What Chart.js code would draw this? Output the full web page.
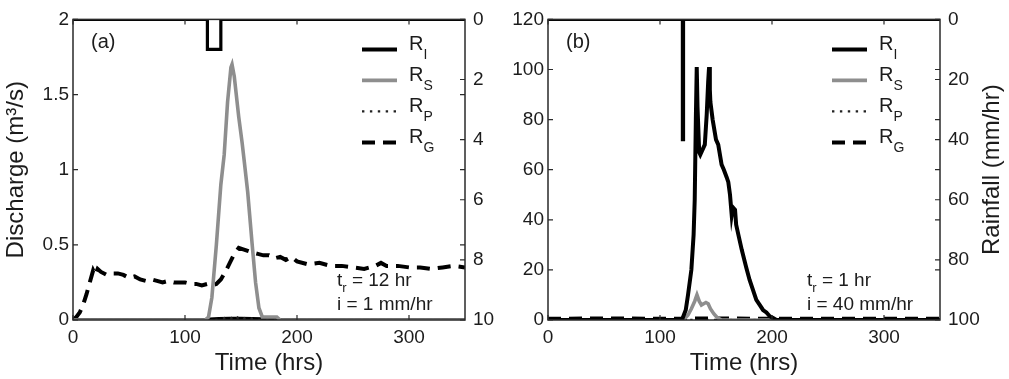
<!DOCTYPE html>
<html>
<head>
<meta charset="utf-8">
<script src="https://cdn.jsdelivr.net/npm/chart.js@4.4.1/dist/chart.umd.min.js"></script>
<style>
  html, body { margin: 0; padding: 0; background: #fff; }
  #wrap { position: relative; width: 1009px; height: 379px; }
  .pane { position: absolute; top: 0; height: 379px; }
  #pa { left: 0; width: 500px; }
  #pb { left: 500px; width: 509px; }
</style>
</head>
<body>
<div id="wrap">
  <div class="pane" id="pa"><canvas id="chartA"></canvas></div>
  <div class="pane" id="pb"><canvas id="chartB"></canvas></div>
</div>
<script>
// ---- tick labels ----
const xTicks      = [0, 100, 200, 300];
const yTicksA     = [0, 0.5, 1, 1.5, 2];
const rainTicksA  = [0, 2, 4, 6, 8, 10];
const yTicksB     = [0, 20, 40, 60, 80, 100, 120];
const rainTicksB  = [0, 20, 40, 60, 80, 100];
const seriesKeys  = ['I', 'S', 'P', 'G'];

// ---- panel (a): t_r = 12 hr, i = 1 mm/hr ----
const tA_rain = [0, 120, 120, 132, 132, 350];
const rainA   = [0, 0, 1, 1, 0, 0];

const tA_RI = [0, 118, 122, 130, 140, 150, 160, 170, 180, 184, 350];
const rIA   = [0, 0, 0.004, 0.006, 0.008, 0.008, 0.006, 0.005, 0.003, 0, 0];

const tA_RS = [0, 118, 121, 124, 128, 132, 135, 138, 141, 142, 144, 148, 151, 153, 156, 160, 163, 166, 169, 175, 182, 185, 350];
const rSA   = [0, 0, 0.02, 0.15, 0.5, 0.9, 1.1, 1.45, 1.68, 1.7, 1.62, 1.35, 1.18, 1.05, 0.85, 0.5, 0.25, 0.08, 0.02, 0.02, 0.02, 0, 0];

const tA_RP = [0, 128, 134, 138, 141, 144, 147, 150, 153, 156, 160, 165, 350];
const rPA   = [0, 0, 0.01, 0.02, 0.01, 0.03, 0.015, 0.025, 0.01, 0.02, 0.008, 0, 0];

const tA_RG = [0, 3, 6, 9, 12, 15, 18, 20, 22, 25,
               30, 35, 40, 45, 50, 55, 60, 65, 70, 75,
               80, 85, 90, 95, 100, 105, 110, 115, 120, 124,
               128, 132, 136, 140, 144, 148, 152, 156, 160, 165,
               170, 175, 180, 185, 190, 195, 200, 210, 220, 230,
               240, 250, 260, 270, 275, 280, 290, 300, 310, 320,
               330, 340, 350];
const rGA   = [0, 0.02, 0.05, 0.1, 0.17, 0.25, 0.33, 0.3, 0.34, 0.32,
               0.3, 0.31, 0.31, 0.3, 0.28, 0.29, 0.27, 0.26, 0.27, 0.26,
               0.25, 0.26, 0.25, 0.25, 0.25, 0.24, 0.24, 0.23, 0.24, 0.23,
               0.24, 0.27, 0.32, 0.38, 0.44, 0.48, 0.47, 0.46, 0.45, 0.44,
               0.43, 0.43, 0.41, 0.42, 0.4, 0.42, 0.39, 0.37, 0.38, 0.36,
               0.36, 0.35, 0.34, 0.36, 0.38, 0.36, 0.36, 0.35, 0.35, 0.34,
               0.35, 0.36, 0.35];

// ---- panel (b): t_r = 1 hr, i = 40 mm/hr ----
const tB_rain = [0, 120, 120, 121, 121, 350];
const rainB   = [0, 0, 40, 40, 0, 0];

const tB_RI = [0, 118, 120, 123, 125, 128, 130, 131, 132, 132.8,
               133.5, 135, 136, 138, 140, 141.7, 143, 143.8, 144.5, 145,
               147, 150, 152, 155, 157, 159.5, 161, 162.5, 164, 165,
               167, 168, 170, 173, 177, 180, 183, 186, 189, 192,
               195, 198, 201, 204, 350];
const rIB   = [0, 0, 0.5, 4, 10, 20, 34, 48, 80, 101,
               85, 67, 66, 68, 70, 82, 95, 101, 92, 87,
               80, 72, 70, 62, 60, 57, 55, 50, 42, 45,
               44, 38, 34, 28, 21, 16, 12, 8, 6, 4,
               3, 1.5, 0.8, 0, 0];

const tB_RS = [0, 120, 122, 125, 128, 131, 133, 135, 137, 139, 141, 143, 145, 148, 151, 155, 350];
const rSB   = [0, 0, 0.5, 2, 4.5, 7.5, 10, 7.5, 6, 6.5, 7, 6.5, 4.5, 2.5, 1, 0, 0];

const tB_RP = [0, 350];
const rPB   = [0, 0];

const tB_RG = [0, 50, 100, 150, 200, 250, 300, 350];
const rGB   = [0.5, 0.6, 0.5, 0.6, 0.5, 0.5, 0.5, 0.5];

// ------------------------------------------------------------
const FF = '"Liberation Sans", Arial, Helvetica, sans-serif';
const INK = '#1c1c1c';

const styles = {
  rain: { borderColor: '#000',    borderWidth: 3.2, borderDash: [] },
  I:    { borderColor: '#000',    borderWidth: 4,   borderDash: [] },
  S:    { borderColor: '#8e8e8e', borderWidth: 3.6, borderDash: [] },
  P:    { borderColor: '#222',    borderWidth: 2.4, borderDash: [2.4, 5.5] },
  G:    { borderColor: '#000',    borderWidth: 4,   borderDash: [13, 8] },
};

function pts(ts, vs) { return ts.map((t, i) => ({ x: t, y: vs[i] })); }

function series(key, ts, vs, axis) {
  return Object.assign({ key, data: pts(ts, vs), yAxisID: axis, pointRadius: 0, tension: 0, fill: false }, styles[key]);
}

function subText(ctx, base, sub, x, y, size, subSize, drop) {
  ctx.font = size + 'px ' + FF;
  ctx.fillText(base, x, y);
  const w = ctx.measureText(base).width;
  ctx.font = subSize + 'px ' + FF;
  ctx.fillText(sub, x + w, y + drop);
  return x + w + ctx.measureText(sub).width;
}

// frame, inward ticks, legend, notes
const decor = {
  id: 'decor',
  afterDatasetsDraw(chart, args, o) {
    const ctx = chart.ctx, a = chart.chartArea;
    const { x, y, y2 } = chart.scales;
    ctx.save();
    ctx.strokeStyle = '#2a2a2a';
    ctx.lineWidth = 1.5;
    ctx.strokeRect(a.left, a.top, a.right - a.left, a.bottom - a.top);

    ctx.lineWidth = 1.2;
    ctx.beginPath();
    x.ticks.forEach(t => {
      const px = x.getPixelForValue(t.value);
      ctx.moveTo(px, a.bottom); ctx.lineTo(px, a.bottom - 5);
      ctx.moveTo(px, a.top);    ctx.lineTo(px, a.top + 5);
    });
    y.ticks.forEach(t => {
      const py = y.getPixelForValue(t.value);
      ctx.moveTo(a.left, py);  ctx.lineTo(a.left + 5, py);
      ctx.moveTo(a.right, py); ctx.lineTo(a.right - 5, py);
    });
    y2.ticks.forEach(t => {
      const py = y2.getPixelForValue(t.value);
      ctx.moveTo(a.right, py); ctx.lineTo(a.right - 5, py);
    });
    ctx.stroke();

    // legend
    ctx.fillStyle = INK;
    ctx.textBaseline = 'alphabetic';
    seriesKeys.forEach((k, i) => {
      const ds = chart.data.datasets.find(d => d.key === k);
      const ly = a.top + 30 + i * 31;
      ctx.strokeStyle = ds.borderColor;
      ctx.lineWidth = ds.borderWidth;
      ctx.setLineDash(ds.borderDash);
      ctx.beginPath();
      ctx.moveTo(a.right - o.legendX, ly);
      ctx.lineTo(a.right - o.legendX + 35, ly);
      ctx.stroke();
      ctx.setLineDash([]);
      subText(ctx, 'R', k, a.right - o.legendX + 47, ly + 1, 20, 14, 9);
    });

    // panel tag
    ctx.font = '20px ' + FF;
    ctx.textAlign = 'left';
    ctx.fillText(o.tag, a.left + 18, a.top + 29);

    // notes
    const nx = a.right - o.noteX;
    let ex = subText(ctx, 't', 'r', nx, a.bottom - 34, 19, 13, 6);
    ctx.font = '19px ' + FF;
    ctx.fillText(' = ' + o.tr, ex, a.bottom - 34);
    ctx.fillText(o.rate, nx, a.bottom - 10);

    // right-hand axis title, read bottom to top
    if (o.rightTitle) {
      ctx.translate(a.right + 52, (a.top + a.bottom) / 2);
      ctx.rotate(-Math.PI / 2);
      ctx.font = '24px ' + FF;
      ctx.textAlign = 'center';
      ctx.textBaseline = 'middle';
      ctx.fillText(o.rightTitle, 0, 0);
    }
    ctx.restore();
  }
};

function makeChart(id, cfg) {
  const tickFont = { family: FF, size: 19 };
  return new Chart(document.getElementById(id), {
    type: 'line',
    data: { datasets: cfg.datasets },
    plugins: [decor],
    options: {
      responsive: true,
      maintainAspectRatio: false,
      animation: false,
      devicePixelRatio: 1,
      layout: { padding: { top: 11, left: 0, right: 0, bottom: 0 } },
      plugins: {
        legend: { display: false },
        tooltip: { enabled: false },
        decor: cfg.decor,
      },
      scales: {
        x: {
          type: 'linear', position: 'bottom', min: 0, max: 350,
          afterBuildTicks: s => { s.ticks = xTicks.map(v => ({ value: v })); },
          afterFit: s => { s.height = 59; },
          grid: { display: false, drawTicks: false },
          border: { display: false },
          ticks: { padding: 6, color: INK, font: tickFont, callback: v => String(v) },
          title: { display: true, text: 'Time (hrs)', color: INK, font: { family: FF, size: 24 }, padding: { top: 0, bottom: 1 } },
        },
        y: {
          type: 'linear', position: 'left', min: 0, max: cfg.yMax,
          afterBuildTicks: s => { s.ticks = cfg.yTicks.map(v => ({ value: v })); },
          afterFit: s => { s.width = cfg.leftW; },
          grid: { display: false, drawTicks: false },
          border: { display: false },
          ticks: { padding: 4, color: INK, font: tickFont, callback: v => String(v) },
          title: { display: !!cfg.leftTitle, text: cfg.leftTitle || '', color: INK, font: { family: FF, size: 24 }, padding: { top: 2, bottom: 0 } },
        },
        y2: {
          type: 'linear', position: 'right', min: 0, max: cfg.rainMax, reverse: true,
          afterBuildTicks: s => { s.ticks = cfg.rainTicks.map(v => ({ value: v })); },
          afterFit: s => { s.width = cfg.rightW; },
          grid: { display: false, drawTicks: false },
          border: { display: false },
          ticks: { padding: 8, color: INK, font: tickFont, callback: v => String(v) },
        },
      },
    },
  });
}

makeChart('chartA', {
  yMax: 2, yTicks: yTicksA, rainMax: 10, rainTicks: rainTicksA,
  leftW: 73, rightW: 35, leftTitle: 'Discharge (m\u00b3/s)',
  datasets: [
    series('rain', tA_rain, rainA, 'y2'),
    series('S', tA_RS, rSA, 'y'),
    series('G', tA_RG, rGA, 'y'),
    series('P', tA_RP, rPA, 'y'),
    series('I', tA_RI, rIA, 'y'),
  ],
  decor: { tag: '(a)', tr: '12 hr', rate: 'i = 1 mm/hr', noteX: 128, legendX: 103 },
});

makeChart('chartB', {
  yMax: 120, yTicks: yTicksB, rainMax: 100, rainTicks: rainTicksB,
  leftW: 48, rightW: 69,
  datasets: [
    series('rain', tB_rain, rainB, 'y2'),
    series('I', tB_RI, rIB, 'y'),
    series('S', tB_RS, rSB, 'y'),
    series('G', tB_RG, rGB, 'y'),
    series('P', tB_RP, rPB, 'y'),
  ],
  decor: { tag: '(b)', tr: '1 hr', rate: 'i = 40 mm/hr', noteX: 133, legendX: 108, rightTitle: 'Rainfall (mm/hr)' },
});
</script>
</body>
</html>
